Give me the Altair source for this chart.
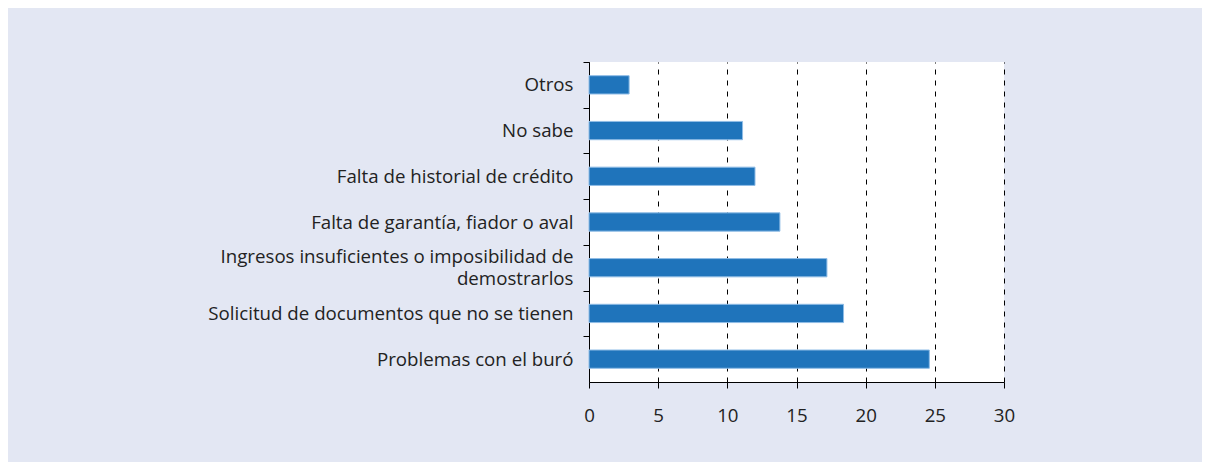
import altair as alt
import pandas as pd

categories = [
    "Otros",
    "No sabe",
    "Falta de historial de crédito",
    "Falta de garantía, fiador o aval",
    "Ingresos insuficientes o imposibilidad de|demostrarlos",
    "Solicitud de documentos que no se tienen",
    "Problemas con el buró",
]
values = [2.9, 11.1, 12.0, 13.8, 17.2, 18.4, 24.6]
x_ticks = [0, 5, 10, 15, 20, 25, 30]

df = pd.DataFrame({"cat": categories, "val": values})

FONT = "Open Sans"
TXT = "#222222"
FS = 18.7
H = 320
STEP = H / len(categories)

chart = (
    alt.Chart(df)
    .mark_bar(color="#1F74BB", stroke="#8FBCE6", strokeWidth=1)
    .encode(
        x=alt.X(
            "val:Q",
            scale=alt.Scale(domain=[0, 30], nice=False),
            axis=alt.Axis(
                values=x_ticks,
                title=None,
                grid=True,
                gridDash=[5, 6],
                gridColor="#000000",
                gridWidth=1,
                gridOpacity=1,
                domainColor="#000000",
                tickColor="#000000",
                tickSize=6,
                labelPadding=18,
                labelFlush=False,
                labelFont=FONT,
                labelFontSize=FS,
                labelColor=TXT,
            ),
        ),
        y=alt.Y(
            "cat:N",
            sort=categories,
            scale=alt.Scale(paddingInner=0.6, paddingOuter=0.3),
            axis=alt.Axis(
                title=None,
                grid=False,
                domainColor="#000000",
                tickColor="#000000",
                tickSize=6,
                tickOffset=-STEP / 2,
                labelPadding=10,
                labelFont=FONT,
                labelFontSize=FS,
                labelColor=TXT,
                labelLineHeight=22,
                labelLimit=500,
                labelOffset={
                    "condition": {
                        "test": "indexof(datum.label, '|') >= 0",
                        "value": STEP / 2 - 11,
                    },
                    "value": STEP / 2,
                },
                labelExpr="split(datum.label, '|')",
            ),
        ),
    )
    .properties(
        width=415,
        height=H,
        background="#E3E7F3",
        padding={"left": 581, "top": 54, "right": 198, "bottom": 80},
        autosize=alt.AutoSizeParams(type="none"),
    )
    .configure_view(fill="white", stroke=None)
)

chart.save("out.html", embed_options={"renderer": "svg", "actions": False})
